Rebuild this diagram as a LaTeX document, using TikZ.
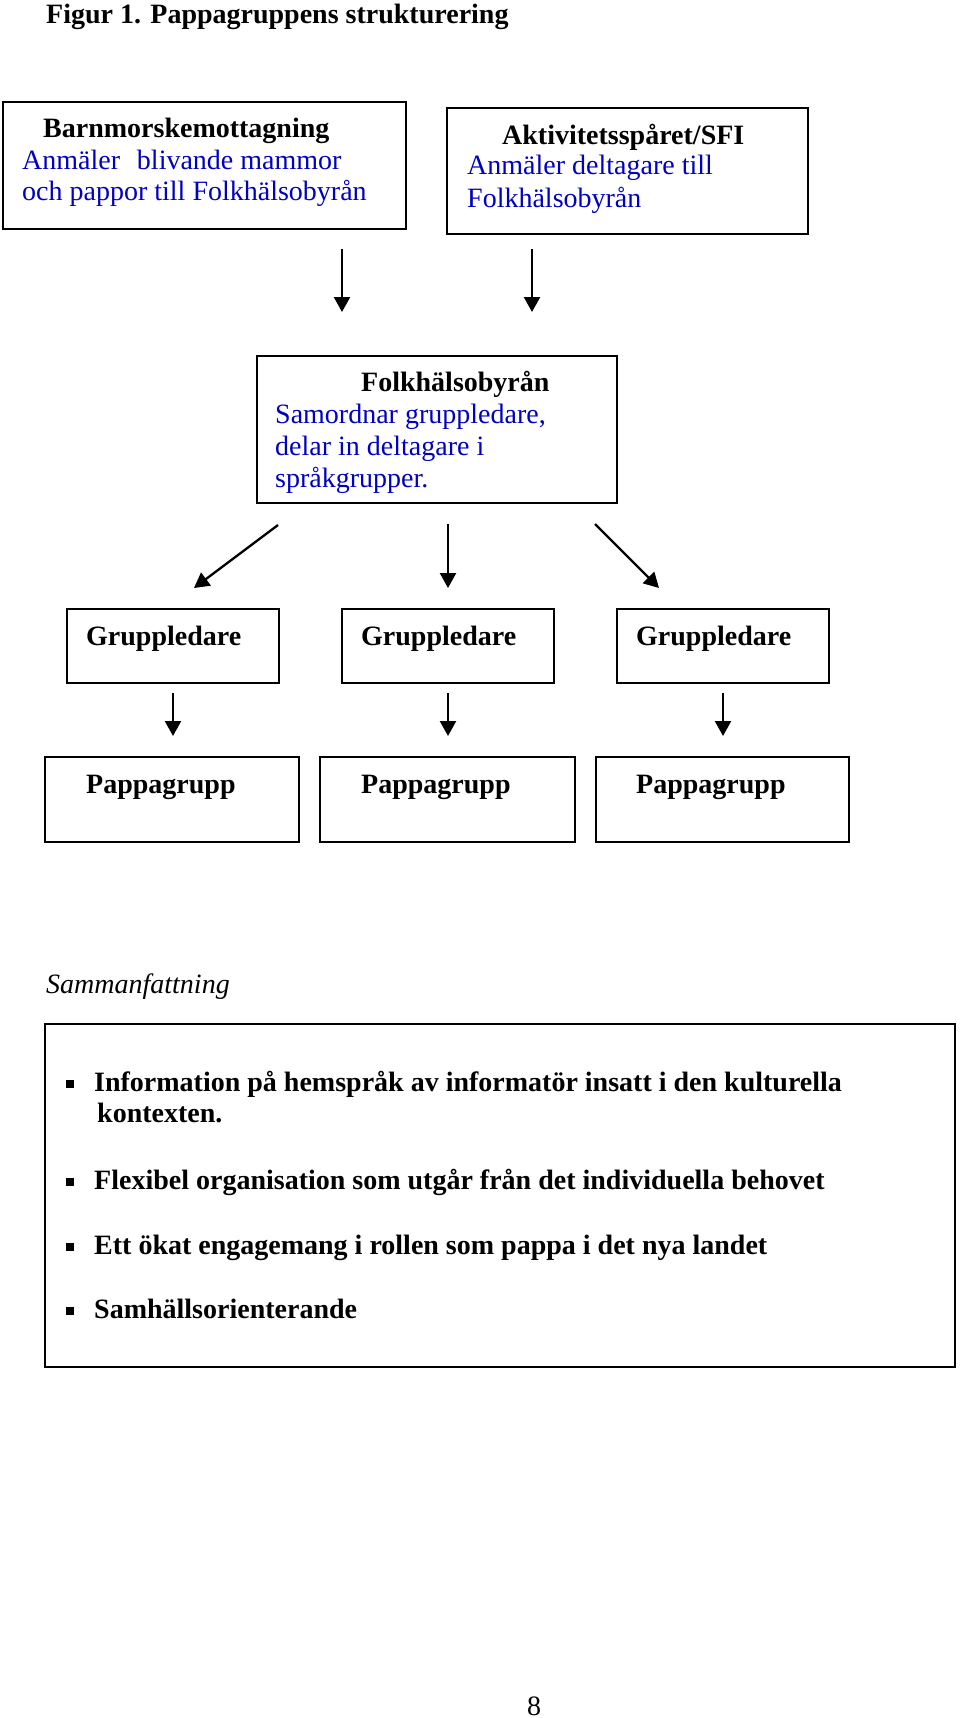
\documentclass[tikz,border=0pt]{standalone}
\usepackage{fontspec}
\setmainfont{Liberation Serif}
\usetikzlibrary{arrows.meta}
\definecolor{txtblue}{RGB}{0,0,192}
\begin{document}
\begin{tikzpicture}[x=1pt,y=-1pt,
  box/.style={draw=black,line width=2.5pt,anchor=north west,inner sep=0pt,outer sep=0pt},
  lbl/.style={anchor=base west,inner sep=0pt,font=\fontsize{28}{34}\selectfont},
  bl/.style={lbl,font=\fontsize{28}{34}\selectfont\bfseries},
  blu/.style={lbl,text=txtblue},
  arr/.style={line width=2.3pt,-{Triangle[width=16pt,length=15pt]}},
  bul/.style={fill=black,minimum size=7.5pt,inner sep=0pt}
]
\fill[white] (0,0) rectangle (960,1718);
\useasboundingbox (0,0) rectangle (960,1718);

% title
\node[bl] (title) at (46,24) {Figur 1. Pappagruppens strukturering};

% top boxes
\node[box,minimum width=403pt,minimum height=127pt] (b1) at (3,102) {};
\node[bl] (b1t) at (43,138) {Barnmorskemottagning};
\node[blu] (b1a) at (22,169) {Anmäler\hspace{0.6em}blivande mammor};
\node[blu] (b1b) at (22,200) {och pappor till Folkhälsobyrån};

\node[box,minimum width=361pt,minimum height=126pt] (b2) at (447,108) {};
\node[bl] (b2t) at (502,144) {Aktivitetsspåret/SFI};
\node[blu] (b2a) at (467,175) {Anmäler deltagare till};
\node[blu] (b2b) at (467,207) {Folkhälsobyrån};

% middle box
\node[box,minimum width=360pt,minimum height=147pt] (b3) at (257,356) {};
\node[bl] (b3t) at (361,391) {Folkhälsobyrån};
\node[blu] (b3a) at (275,423) {Samordnar gruppledare,};
\node[blu] (b3b) at (275,455) {delar in deltagare i};
\node[blu] (b3c) at (275,487) {språkgrupper.};

% arrows top
\coordinate (a1s) at (342,249); \coordinate (a1e) at (342,312);
\coordinate (a2s) at (532,249); \coordinate (a2e) at (532,312);
\draw[arr] (a1s) -- (a1e);
\draw[arr] (a2s) -- (a2e);

% arrows to group leaders
\coordinate (d1s) at (278,525); \coordinate (d1e) at (194,588);
\coordinate (d2s) at (448,524); \coordinate (d2e) at (448,588);
\coordinate (d3s) at (595,524); \coordinate (d3e) at (659,588);
\draw[arr] (d1s) -- (d1e);
\draw[arr] (d2s) -- (d2e);
\draw[arr] (d3s) -- (d3e);

% group leader boxes
\node[box,minimum width=212pt,minimum height=74pt] (g1) at (67,609) {};
\node[box,minimum width=212pt,minimum height=74pt] (g2) at (342,609) {};
\node[box,minimum width=212pt,minimum height=74pt] (g3) at (617,609) {};
\node[bl] (g1t) at (86,645) {Gruppledare};
\node[bl] (g2t) at (361,645) {Gruppledare};
\node[bl] (g3t) at (636,645) {Gruppledare};

% arrows to father groups
\coordinate (e1s) at (173,693); \coordinate (e1e) at (173,736);
\coordinate (e2s) at (448,693); \coordinate (e2e) at (448,736);
\coordinate (e3s) at (723,693); \coordinate (e3e) at (723,736);
\draw[arr] (e1s) -- (e1e);
\draw[arr] (e2s) -- (e2e);
\draw[arr] (e3s) -- (e3e);

% father group boxes
\node[box,minimum width=254pt,minimum height=85pt] (p1) at (45,757) {};
\node[box,minimum width=255pt,minimum height=85pt] (p2) at (320,757) {};
\node[box,minimum width=253pt,minimum height=85pt] (p3) at (596,757) {};
\node[bl] (p1t) at (86,793) {Pappagrupp};
\node[bl] (p2t) at (361,793) {Pappagrupp};
\node[bl] (p3t) at (636,793) {Pappagrupp};

% summary
\node[lbl,font=\fontsize{28}{34}\selectfont\itshape] (sumt) at (46,993) {Sammanfattning};
\node[box,minimum width=910pt,minimum height=343pt] (sum) at (45,1024) {};

\node[bul] (s1) at (70,1084) {};
\node[bl] (s1a) at (94,1091) {Information på hemspråk av informatör insatt i den kulturella};
\node[bl] (s1b) at (97,1122) {kontexten.};
\node[bul] (s2) at (70,1182) {};
\node[bl] (s2a) at (94,1189) {Flexibel organisation som utgår från det individuella behovet};
\node[bul] (s3) at (70,1247) {};
\node[bl] (s3a) at (94,1254) {Ett ökat engagemang i rollen som pappa i det nya landet};
\node[bul] (s4) at (70,1311) {};
\node[bl] (s4a) at (94,1318) {Samhällsorienterande};

% page number
\node[lbl,anchor=base] (pg) at (534,1715) {8};
\end{tikzpicture}
\end{document}
